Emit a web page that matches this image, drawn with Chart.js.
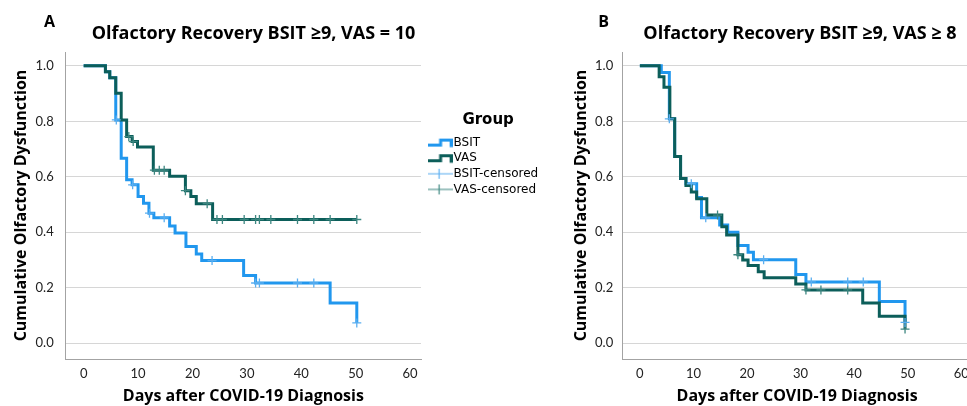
<!DOCTYPE html>
<html>
<head>
<meta charset="utf-8">
<script src="https://cdn.jsdelivr.net/npm/chart.js@4.4.1/dist/chart.umd.min.js"></script>
<style>
  html, body { margin: 0; padding: 0; background: #fff; overflow: hidden; }
  #wrap { position: relative; width: 967px; height: 406px; overflow: hidden; }
  #chartA { position: absolute; left: 0; top: 0; }
  #chartB { position: absolute; left: 415px; top: 0; }
</style>
</head>
<body>
<div id="wrap">
  <canvas id="chartA" width="440" height="406"></canvas>
  <canvas id="chartB" width="600" height="406"></canvas>
</div>
<script>
// Panel A: BSIT >= 9, VAS = 10
var aBsitDays = [0, 4.0, 4.8, 5.9, 6.9, 7.9, 8.9, 10.0, 11.0, 12.0, 12.9, 15.8, 16.8, 18.8, 20.7, 21.7, 29.4, 31.6, 45.3, 50.2];
var aBsitSurv = [1.0, 0.979, 0.957, 0.805, 0.667, 0.589, 0.571, 0.529, 0.505, 0.469, 0.452, 0.423, 0.397, 0.349, 0.322, 0.298, 0.244, 0.217, 0.145, 0.073];
var aBsitCensDays = [6.0, 9.0, 12.1, 14.8, 23.6, 31.6, 32.3, 39.3, 42.3, 50.2];
var aBsitCensSurv = [0.805, 0.571, 0.469, 0.452, 0.298, 0.217, 0.217, 0.217, 0.217, 0.073];
var aVasDays = [0, 4.0, 4.8, 5.9, 6.9, 7.9, 8.9, 9.9, 12.8, 15.8, 18.7, 19.7, 20.7, 23.7, 50.2];
var aVasSurv = [1.0, 0.979, 0.957, 0.901, 0.805, 0.745, 0.727, 0.707, 0.624, 0.602, 0.550, 0.529, 0.503, 0.446, 0.446];
var aVasCensDays = [8.3, 9.1, 13.0, 13.9, 14.8, 18.7, 22.7, 24.5, 25.5, 29.5, 31.6, 32.3, 34.4, 39.3, 42.3, 45.3, 50.2];
var aVasCensSurv = [0.745, 0.727, 0.624, 0.624, 0.624, 0.550, 0.503, 0.446, 0.446, 0.446, 0.446, 0.446, 0.446, 0.446, 0.446, 0.446, 0.446];

// Panel B: BSIT >= 9, VAS >= 8
var bBsitDays = [0, 4.0, 5.5, 6.5, 7.6, 8.6, 10.6, 11.5, 14.9, 16.4, 18.3, 20.2, 21.2, 29.1, 31.0, 44.7, 49.5];
var bBsitSurv = [1.0, 0.976, 0.809, 0.673, 0.594, 0.575, 0.525, 0.452, 0.426, 0.400, 0.352, 0.328, 0.301, 0.248, 0.221, 0.150, 0.075];
var bBsitCensDays = [5.5, 9.6, 12.3, 23.1, 32.0, 38.8, 41.7, 49.5];
var bBsitCensSurv = [0.809, 0.575, 0.452, 0.301, 0.221, 0.221, 0.221, 0.075];
var bVasDays = [0, 3.6, 4.5, 5.6, 6.5, 7.6, 8.6, 9.6, 10.6, 12.5, 15.3, 16.2, 18.3, 19.2, 20.2, 22.1, 23.2, 29.1, 31.0, 41.6, 44.7, 49.5];
var bVasSurv = [1.0, 0.961, 0.923, 0.809, 0.673, 0.594, 0.569, 0.545, 0.521, 0.462, 0.420, 0.390, 0.319, 0.300, 0.280, 0.258, 0.236, 0.213, 0.192, 0.145, 0.097, 0.051];
var bVasCensDays = [14.5, 18.3, 31.0, 33.8, 38.8, 49.5];
var bVasCensSurv = [0.462, 0.319, 0.192, 0.192, 0.192, 0.051];

var yTicks = [0, 0.2, 0.4, 0.6, 0.8, 1.0];
var xTicks = [0, 10, 20, 30, 40, 50, 60];

var bsitColor = '#2197ee';
var vasColor = '#0c5e5a';
var bsitCensColor = '#5aaef0';
var vasCensColor = '#3c8680';

function pts(xs, ys) {
  var out = [];
  for (var i = 0; i < xs.length; i++) out.push({x: xs[i], y: ys[i]});
  return out;
}

function stepIcon(color) {
  var c = document.createElement('canvas');
  c.width = 26; c.height = 12;
  var g = c.getContext('2d');
  g.strokeStyle = color;
  g.lineWidth = 3;
  g.lineJoin = 'miter';
  g.beginPath();
  g.moveTo(0, 8.5); g.lineTo(14, 8.5); g.lineTo(14, 3.5); g.lineTo(24.5, 3.5); g.lineTo(24.5, 10.5);
  g.stroke();
  return c;
}

function censIcon(color) {
  var c = document.createElement('canvas');
  c.width = 26; c.height = 12;
  var g = c.getContext('2d');
  g.strokeStyle = color;
  g.lineWidth = 1.2;
  g.beginPath();
  g.moveTo(0, 6); g.lineTo(26, 6);
  g.moveTo(12.5, 1); g.lineTo(12.5, 11);
  g.stroke();
  return c;
}

function datasets(bd, bs, bcd, bcs, vd, vs, vcd, vcs) {
  return [
    {label: 'BSIT-censored', data: pts(bcd, bcs), showLine: false, pointStyle: 'cross',
     pointRadius: 4.5, pointBorderWidth: 1.3, borderColor: bsitCensColor, backgroundColor: bsitCensColor},
    {label: 'VAS-censored', data: pts(vcd, vcs), showLine: false, pointStyle: 'cross',
     pointRadius: 4.5, pointBorderWidth: 1.3, borderColor: vasCensColor, backgroundColor: vasCensColor},
    {label: 'VAS', data: pts(vd, vs), showLine: true, stepped: 'before', pointRadius: 0,
     borderColor: vasColor, borderWidth: 3, fill: false},
    {label: 'BSIT', data: pts(bd, bs), showLine: true, stepped: 'before', pointRadius: 0,
     borderColor: bsitColor, borderWidth: 3, fill: false}
  ];
}

var panelText = {
  id: 'panelText',
  afterDraw: function(chart, args, opts) {
    var ctx = chart.ctx;
    ctx.save();
    ctx.fillStyle = '#000';
    ctx.textBaseline = 'alphabetic';
    ctx.textAlign = 'center';
    ctx.font = 'bold 16px "Open Sans"';
    ctx.fillText(opts.letter, opts.letterX, 26.5);
    ctx.font = 'bold 18px "Open Sans"';
    ctx.fillText(opts.title, opts.titleX, 39.3);
    ctx.restore();
  }
};

function options(letter, letterX, title, titleX, pad, yTitlePad, yTickPad, yWidth, legend) {
  return {
    responsive: false,
    animation: false,
    events: [],
    layout: {padding: pad},
    plugins: {
      legend: legend,
      tooltip: {enabled: false},
      panelText: {letter: letter, letterX: letterX, title: title, titleX: titleX}
    },
    scales: {
      x: {
        type: 'linear', min: -3.3, max: 62,
        afterBuildTicks: function(s) { s.ticks = xTicks.map(function(v) { return {value: v}; }); },
        afterFit: function(s) { s.height = 47; },
        ticks: {padding: 7, color: '#222', font: {family: 'Lato', size: 13}},
        grid: {display: false, drawTicks: false},
        border: {display: true, color: '#a3a3a3', width: 1},
        title: {display: true, text: 'Days after COVID-19 Diagnosis', color: '#000',
                font: {family: 'Open Sans', size: 16, weight: 'bold'}, padding: {top: 5, bottom: 0}}
      },
      y: {
        type: 'linear', min: -0.057, max: 1.05,
        afterBuildTicks: function(s) { s.ticks = yTicks.map(function(v) { return {value: v}; }); },
        afterFit: function(s) { s.width = yWidth; },
        ticks: {padding: yTickPad, color: '#222', font: {family: 'Lato', size: 13},
                callback: function(v) { return v.toFixed(1); }},
        grid: {color: '#d6d6d6', lineWidth: 1, drawTicks: false},
        border: {display: true, color: '#a3a3a3', width: 1},
        title: {display: true, text: 'Cumulative Olfactory Dysfunction', color: '#000',
                font: {family: 'Open Sans', size: 16, weight: 'bold'}, padding: yTitlePad}
      }
    }
  };
}

var legendItems = [
  {text: 'BSIT', pointStyle: stepIcon(bsitColor), fillStyle: bsitColor, strokeStyle: bsitColor, lineWidth: 0, hidden: false, datasetIndex: 3},
  {text: 'VAS', pointStyle: stepIcon(vasColor), fillStyle: vasColor, strokeStyle: vasColor, lineWidth: 0, hidden: false, datasetIndex: 2},
  {text: 'BSIT-censored', pointStyle: censIcon(bsitCensColor), fillStyle: bsitCensColor, strokeStyle: bsitCensColor, lineWidth: 0, hidden: false, datasetIndex: 0},
  {text: 'VAS-censored', pointStyle: censIcon(vasCensColor), fillStyle: vasCensColor, strokeStyle: vasCensColor, lineWidth: 0, hidden: false, datasetIndex: 1}
];

new Chart(document.getElementById('chartA'), {
  type: 'scatter',
  data: {datasets: datasets(aBsitDays, aBsitSurv, aBsitCensDays, aBsitCensSurv, aVasDays, aVasSurv, aVasCensDays, aVasCensSurv)},
  options: options('A', 49.5, 'Olfactory Recovery BSIT \u22659, VAS = 10', 253.5,
    {top: 52, left: 12, right: 19, bottom: 0}, {top: 0, bottom: 4}, 12, 53.7, {display: false}),
  plugins: [panelText]
});

new Chart(document.getElementById('chartB'), {
  type: 'scatter',
  data: {datasets: datasets(bBsitDays, bBsitSurv, bBsitCensDays, bBsitCensSurv, bVasDays, bVasSurv, bVasCensDays, bVasCensSurv)},
  options: options('B', 188.5, 'Olfactory Recovery BSIT \u22659, VAS \u2265 8', 385,
    {top: 52, left: 13, right: 43, bottom: 0}, {top: 24, bottom: 4}, 9, 74, {
      display: true, position: 'left', align: 'start',
      title: {display: true, text: 'Group', color: '#000', position: 'center',
              font: {family: 'DejaVu Sans', size: 15, weight: 'bold'}, padding: {top: 61, bottom: 2}},
      labels: {usePointStyle: true, pointStyleWidth: 16, padding: 3.6, color: '#111',
               font: {family: 'DejaVu Sans', size: 12},
               generateLabels: function() { return legendItems; }}
    }),
  plugins: [panelText]
});
</script>
</body>
</html>
